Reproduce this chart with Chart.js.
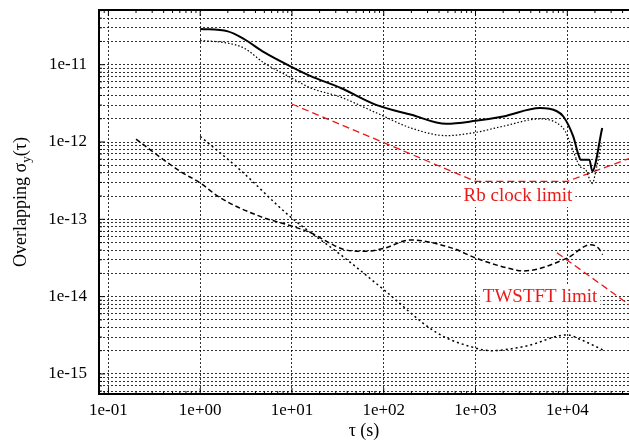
<!DOCTYPE html>
<html>
<head>
<meta charset="utf-8">
<script src="https://cdn.jsdelivr.net/npm/chart.js@4.4.0/dist/chart.umd.min.js"></script>
<style>
  body { margin: 0; background: #fff; }
  #wrap { width: 629px; height: 443px; }
</style>
</head>
<body>
<div id="wrap"><canvas id="myChart" width="629" height="443"></canvas></div>
<script>
// averaging time tau (s) and overlapping deviation
var tauA = [1, 2, 3, 5, 10, 16, 34, 84, 200, 480, 1000, 2000, 5050, 7700, 9060, 11600, 13200, 14000, 17400, 18700, 24000];
var sigA = [2.9e-11, 2.7e-11, 2.15e-11, 1.44e-11, 9.3e-12, 7.1e-12, 5.0e-12, 3.0e-12, 2.25e-12, 1.72e-12, 1.88e-12, 2.14e-12, 2.75e-12, 2.5e-12, 2.14e-12, 1.18e-12, 6.9e-13, 5.9e-13, 5.9e-13, 4.2e-13, 1.52e-12];

var tauB = [1, 2, 3, 5, 10, 16, 34, 84, 200, 480, 1000, 2000, 5050, 7700, 9500, 11600, 13800, 15800, 18700, 20600, 23700];
var sigB = [2.06e-11, 1.9e-11, 1.64e-11, 1.05e-11, 6.7e-12, 5.0e-12, 3.8e-12, 2.37e-12, 1.51e-12, 1.21e-12, 1.33e-12, 1.6e-12, 1.99e-12, 1.76e-12, 1.37e-12, 7.6e-13, 4.8e-13, 4.4e-13, 2.9e-13, 4.4e-13, 9.7e-13];

var tauC = [0.2, 0.6, 1, 1.65, 4.5, 9.5, 16, 26, 36, 60, 100, 194, 570, 1000, 2800, 3300, 10000, 18000, 22000, 24300];
var sigC = [1.09e-12, 4.2e-13, 2.95e-13, 1.9e-13, 1.09e-13, 8.3e-14, 6.7e-14, 4.9e-14, 4.1e-14, 3.85e-14, 4.2e-14, 5.4e-14, 4.2e-14, 3.16e-14, 2.2e-14, 2.15e-14, 3.16e-14, 4.7e-14, 4.2e-14, 3.5e-14];

var tauD = [1, 2.7, 9.5, 36, 100, 380, 1000, 1450, 3600, 10000, 13800, 24300];
var sigD = [1.18e-12, 4.4e-13, 1.09e-13, 3.3e-14, 1.23e-14, 3.4e-15, 2.16e-15, 2.0e-15, 2.3e-15, 3.2e-15, 2.8e-15, 2.05e-15];

// limit lines
var tauRb = [10, 1000, 10000, 47000];
var sigRb = [3.1e-12, 3.1e-13, 3.1e-13, 6.1e-13];
var tauTw = [7700, 47000];
var sigTw = [3.7e-14, 7.9e-15];

var xTicks = [0.1, 1, 10, 100, 1000, 10000];
var yDecades = [1e-16, 1e-15, 1e-14, 1e-13, 1e-12, 1e-11];

var serif = "'Liberation Serif', 'DejaVu Serif', serif";
var red = 'rgb(235, 25, 25)';

function pts(t, s) {
    return t.map(function (v, i) { return { x: v, y: s[i] }; });
}

function isDecade(v) {
    var l = Math.log10(v);
    return Math.abs(l - Math.round(l)) < 1e-9;
}

function sci(v) {
    var e = Math.round(Math.log10(v));
    var a = Math.abs(e);
    return '1e' + (e < 0 ? '-' : '+') + (a < 10 ? '0' : '') + a;
}

// every 1..9 step of each decade, for the y grid
var yTicks = [];
yDecades.forEach(function (d) {
    for (var k = 1; k <= 9; k++) yTicks.push(k * d);
});

var extras = {
    id: 'extras',
    afterDatasetsDraw: function (chart) {
        var c = chart.ctx, a = chart.chartArea;
        var xs = chart.scales.x, ys = chart.scales.y;
        c.save();
        c.strokeStyle = '#000';
        c.lineWidth = 1;
        // inward tick marks
        c.beginPath();
        for (var e = -2; e <= 5; e++) {
            for (var k = 1; k <= 9; k++) {
                var v = k * Math.pow(10, e);
                var len = k === 1 ? 6 : 3;
                if (v >= xs.min && v <= xs.max) {
                    var px = xs.getPixelForValue(v);
                    c.moveTo(px, a.bottom); c.lineTo(px, a.bottom - len);
                    c.moveTo(px, a.top); c.lineTo(px, a.top + len);
                }
            }
        }
        yTicks.forEach(function (v) {
            if (v < ys.min || v > ys.max) return;
            var py = ys.getPixelForValue(v);
            var len = isDecade(v) ? 6 : 3;
            c.moveTo(a.left, py); c.lineTo(a.left + len, py);
        });
        c.stroke();

        // frame
        c.lineWidth = 2;
        c.beginPath();
        c.moveTo(a.right + 2, a.top);
        c.lineTo(a.left, a.top);
        c.lineTo(a.left, a.bottom);
        c.lineTo(a.right + 2, a.bottom);
        c.stroke();

        // limit labels with white background
        c.font = '19px ' + serif;
        c.textAlign = 'center';
        c.textBaseline = 'middle';
        [['Rb clock limit', 2900, 2.0e-13], ['TWSTFT limit', 5050, 1.0e-14]].forEach(function (l) {
            var x = xs.getPixelForValue(l[1]), y = ys.getPixelForValue(l[2]);
            var w = c.measureText(l[0]).width;
            c.fillStyle = '#fff';
            c.fillRect(x - w / 2 - 3, y - 11, w + 6, 22);
            c.fillStyle = red;
            c.fillText(l[0], x, y);
        });

        // axis titles
        c.fillStyle = '#000';
        c.font = '18px ' + serif;
        c.textAlign = 'center';
        c.textBaseline = 'alphabetic';
        c.fillText('\u03c4 (s)', (a.left + a.right) / 2, 436);

        c.translate(26, (a.top + a.bottom) / 2);
        c.rotate(-Math.PI / 2);
        c.textAlign = 'left';
        var p1 = 'Overlapping \u03c3', p2 = 'y', p3 = '(\u03c4)';
        c.font = '18px ' + serif;
        var w1 = c.measureText(p1).width, w3 = c.measureText(p3).width;
        c.font = '13px ' + serif;
        var w2 = c.measureText(p2).width;
        var x0 = -(w1 + w2 + w3) / 2;
        c.font = '18px ' + serif;
        c.fillText(p1, x0, 0);
        c.font = '13px ' + serif;
        c.fillText(p2, x0 + w1, 4);
        c.font = '18px ' + serif;
        c.fillText(p3, x0 + w1 + w2, 0);
        c.restore();
    }
};

var ctx = document.getElementById('myChart').getContext('2d');
var myChart = new Chart(ctx, {
    type: 'line',
    data: {
        datasets: [{
            data: pts(tauA, sigA),
            borderColor: '#000',
            borderWidth: 2,
            cubicInterpolationMode: 'monotone'
        }, {
            data: pts(tauB, sigB),
            borderColor: '#000',
            borderWidth: 1.2,
            borderDash: [1.5, 2],
            cubicInterpolationMode: 'monotone'
        }, {
            data: pts(tauC, sigC),
            borderColor: '#000',
            borderWidth: 1.5,
            borderDash: [5, 3],
            cubicInterpolationMode: 'monotone'
        }, {
            data: pts(tauD, sigD),
            borderColor: '#000',
            borderWidth: 1.5,
            borderDash: [2, 3],
            cubicInterpolationMode: 'monotone'
        }, {
            data: pts(tauRb, sigRb),
            borderColor: red,
            borderWidth: 1.3,
            borderDash: [7, 4]
        }, {
            data: pts(tauTw, sigTw),
            borderColor: red,
            borderWidth: 1.3,
            borderDash: [7, 4]
        }]
    },
    plugins: [extras],
    options: {
        responsive: false,
        animation: false,
        layout: { padding: { top: 10, right: 0, left: 0, bottom: 0 } },
        elements: { point: { radius: 0 } },
        plugins: { legend: { display: false }, tooltip: { enabled: false } },
        scales: {
            x: {
                type: 'logarithmic',
                min: 0.079,
                max: 47000,
                afterBuildTicks: function (s) {
                    s.ticks = xTicks.map(function (v) { return { value: v }; });
                },
                afterFit: function (s) {
                    s.height = 49;
                    s.paddingLeft = 0;
                    s.paddingRight = 0;
                },
                grid: { color: 'rgba(0,0,0,0.8)', lineWidth: 1, drawTicks: false },
                border: { display: false, dash: [2, 2] },
                ticks: {
                    autoSkip: false,
                    maxRotation: 0,
                    padding: 6,
                    color: '#000',
                    font: { family: serif, size: 17 },
                    callback: function (v) { return sci(v); }
                }
            },
            y: {
                type: 'logarithmic',
                min: 5.5e-16,
                max: 5.1e-11,
                afterBuildTicks: function (s) {
                    s.ticks = yTicks.filter(function (v) {
                        return v >= 5.5e-16 && v <= 5.1e-11;
                    }).map(function (v) { return { value: v }; });
                },
                afterFit: function (s) {
                    s.width = 99;
                    s.paddingTop = 0;
                    s.paddingBottom = 0;
                },
                grid: { color: 'rgba(0,0,0,0.8)', lineWidth: 1, drawTicks: false },
                border: { display: false, dash: [2, 2] },
                ticks: {
                    autoSkip: false,
                    padding: 12,
                    color: '#000',
                    font: { family: serif, size: 17 },
                    callback: function (v) { return isDecade(v) ? sci(v) : ''; }
                }
            }
        }
    }
});
</script>
</body>
</html>
